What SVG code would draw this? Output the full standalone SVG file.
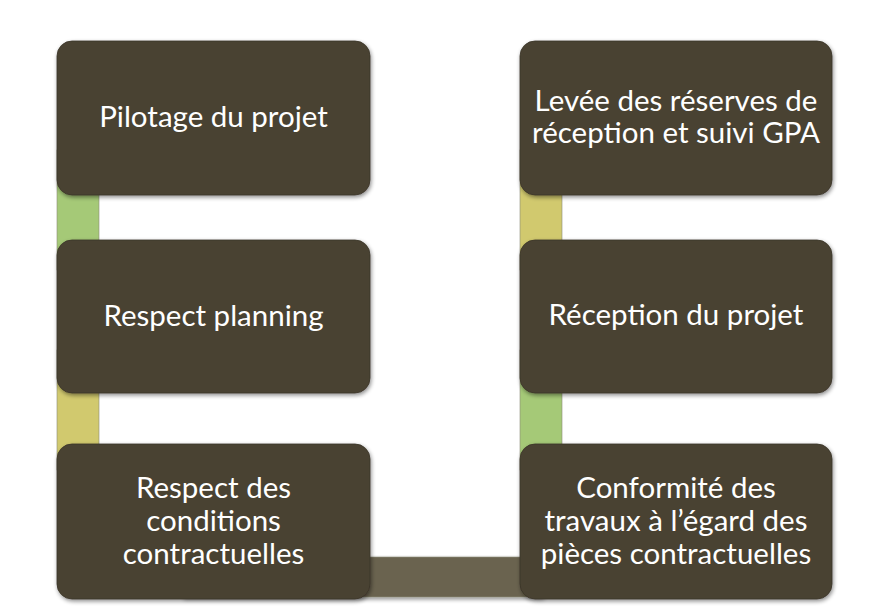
<svg xmlns="http://www.w3.org/2000/svg" width="889" height="611" viewBox="0 0 889 611">
<defs>
<filter id="sh" x="-10%" y="-10%" width="130%" height="130%">
<feGaussianBlur in="SourceAlpha" stdDeviation="2"/>
<feOffset dx="1" dy="2" result="b"/>
<feComponentTransfer><feFuncA type="linear" slope="0.45"/></feComponentTransfer>
<feMerge><feMergeNode/><feMergeNode in="SourceGraphic"/></feMerge>
</filter>
</defs>
<style>
.box{fill:#4A4332;stroke:#3a3427;stroke-width:0.8;filter:url(#sh)}
.t{font-family:"Lato","Open Sans",sans-serif;font-size:29.5px;fill:#FFFFFF;text-anchor:middle}
.bar{stroke:#8a8a78;stroke-width:0.6}
</style>
<rect width="889" height="611" fill="#FFFFFF"/>
<g id="connectors">
<rect class="bar" x="183" y="557" width="360" height="40" fill="#6B6450" filter="url(#sh)"/>
<rect class="bar" x="57" y="150" width="42" height="120" fill="#A5C977"/>
<rect class="bar" x="57" y="350" width="42" height="120" fill="#D1C96E"/>
<rect class="bar" x="520" y="150" width="42" height="120" fill="#D1C96E"/>
<rect class="bar" x="520" y="350" width="42" height="120" fill="#A5C977"/>
</g>
<g id="n1">
<rect class="box" x="57" y="41" width="313" height="154" rx="15"/>
<text class="t" x="213.5" y="127">Pilotage du projet</text>
</g>
<g id="n2">
<rect class="box" x="57" y="240" width="313" height="153" rx="15"/>
<text class="t" x="213.5" y="326">Respect planning</text>
</g>
<g id="n3">
<rect class="box" x="57" y="444" width="313" height="155" rx="15"/>
<text class="t" x="213.5" y="498">Respect des</text>
<text class="t" x="213.5" y="531">conditions</text>
<text class="t" x="213.5" y="564">contractuelles</text>
</g>
<g id="n4">
<rect class="box" x="520" y="41" width="312" height="154" rx="15"/>
<text class="t" x="676" y="111">Levée des réserves de</text>
<text class="t" x="676" y="143">réception et suivi GPA</text>
</g>
<g id="n5">
<rect class="box" x="520" y="240" width="312" height="153" rx="15"/>
<text class="t" x="676" y="325">Réception du projet</text>
</g>
<g id="n6">
<rect class="box" x="520" y="444" width="312" height="155" rx="15"/>
<text class="t" x="676" y="498">Conformité des</text>
<text class="t" x="676" y="531">travaux à l’égard des</text>
<text class="t" x="676" y="564">pièces contractuelles</text>
</g>
</svg>
